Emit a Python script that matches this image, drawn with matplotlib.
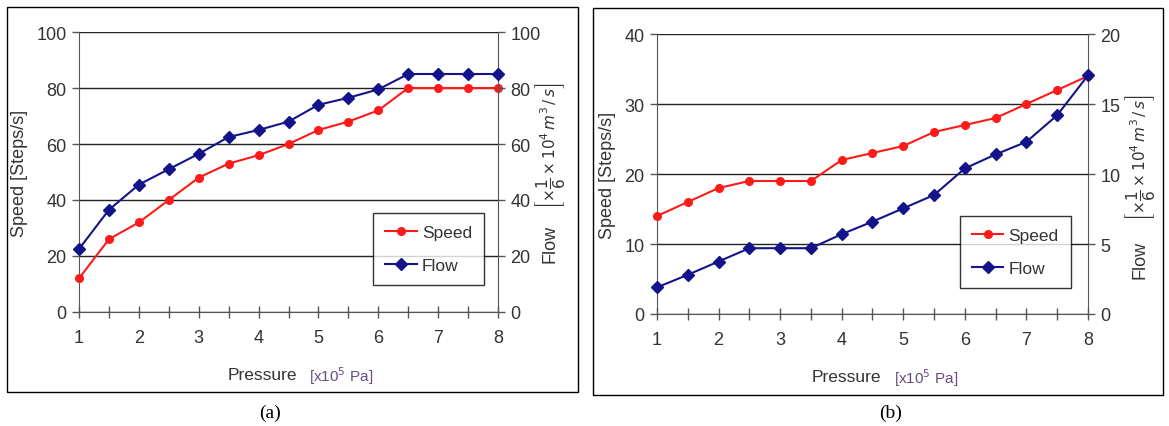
import matplotlib
matplotlib.use("Agg")
import matplotlib.pyplot as plt
import numpy as np
from matplotlib.patches import Rectangle

plt.rcParams['font.family'] = ['Liberation Sans', 'DejaVu Sans']

pressure = [1, 1.5, 2, 2.5, 3, 3.5, 4, 4.5, 5, 5.5, 6, 6.5, 7, 7.5, 8]

speed_a = [12, 26, 32, 40, 48, 53, 56, 60, 65, 68, 72, 80, 80, 80, 80]
flow_a = [22.5, 36.5, 45.5, 51, 56.5, 62.5, 65, 68, 74, 76.5, 79.5, 85, 85, 85, 85]

speed_b = [14, 16, 18, 19, 19, 19, 22, 23, 24, 26, 27, 28, 30, 32, 34]
flow_b = [1.9, 2.8, 3.75, 4.7, 4.7, 4.7, 5.7, 6.6, 7.55, 8.5, 10.4, 11.4, 12.3, 14.2, 17.05]

RED = '#ff1a1a'
NAVY = '#14148a'
GRAY = '#333333'

fig = plt.figure(figsize=(11.69, 4.27), dpi=100)


def panel(rect, frame, speed, flow, ymax, ystep, rmax, rstep, leg_anchor, caption, cap_x,
          lab_x, flow_y, brk_y):
    fig.patches.append(Rectangle(frame[:2], frame[2], frame[3], transform=fig.transFigure,
                                 fill=False, edgecolor='black', lw=1.0))
    ax = fig.add_axes(rect)
    ax2 = ax.twinx()

    ax.set_xlim(1, 8)
    ax.set_ylim(0, ymax)
    ax2.set_ylim(0, rmax)
    ax.set_yticks(np.arange(0, ymax + 1, ystep))
    ax2.set_yticks(np.arange(0, rmax + 1, rstep))
    ax.set_xticks(pressure)
    ax.set_xticklabels([str(int(p)) if p == int(p) else '' for p in pressure])

    ax.grid(axis='y', color='#222222', lw=1.0)
    ax.set_axisbelow(True)
    for a in (ax, ax2):
        a.spines['top'].set_visible(False)
        a.spines['left'].set_color('#555555')
        a.spines['right'].set_color('#555555')
        a.spines['bottom'].set_color('#555555')
    ax.spines['right'].set_visible(False)
    ax2.spines['left'].set_visible(False)
    ax2.spines['bottom'].set_visible(False)

    ax.tick_params(axis='x', direction='inout', length=9, width=1, color='#555555',
                   labelsize=13, labelcolor=GRAY, pad=8)
    ax.tick_params(axis='y', direction='out', length=5, width=1, color='#555555',
                   labelsize=13, labelcolor=GRAY, pad=4)
    ax2.tick_params(axis='y', direction='out', length=5, width=1, color='#555555',
                    labelsize=13, labelcolor=GRAY, pad=4)

    l1, = ax.plot(pressure, speed, color=RED, lw=1.5, marker='o', ms=5.5, label='Speed',
                  clip_on=False, zorder=3)
    l2, = ax2.plot(pressure, flow, color=NAVY, lw=1.5, marker='D', ms=6, label='Flow',
                   clip_on=False, zorder=3)

    ax.set_ylabel('Speed [Steps/s]', fontsize=13, color=GRAY, labelpad=6)
    ax2.text(lab_x, flow_y, 'Flow', transform=ax2.transAxes, rotation=90,
             ha='center', va='center', fontsize=13, color=GRAY)
    ax2.text(lab_x, brk_y, r'$\left[\times\dfrac{1}{6}\times10^4\,m^3\,/\,s\right]$',
             transform=ax2.transAxes, rotation=90, ha='center', va='center',
             fontsize=11, color=GRAY)

    ax.text(0.52, -0.225, 'Pressure', transform=ax.transAxes, ha='right', va='center',
            fontsize=12.5, color=GRAY)
    ax.text(0.55, -0.225, r'[x10$^5$ Pa]', transform=ax.transAxes, ha='left', va='center',
            fontsize=11, color='#6a4a7a')

    leg = ax2.legend([l1, l2], ['Speed', 'Flow'], loc='upper right', bbox_to_anchor=leg_anchor,
                     fontsize=12.5, frameon=True, fancybox=False, edgecolor='black',
                     labelspacing=1.0, handlelength=1.8, handletextpad=0.3,
                     borderpad=0.7, borderaxespad=0)
    leg.get_frame().set_linewidth(1.0)
    for t in leg.get_texts():
        t.set_color(GRAY)

    fig.text(cap_x, 0.033, caption, ha='center', va='center', fontsize=14,
             family='Liberation Serif')


panel([0.0676, 0.267, 0.3584, 0.6557], (0.006, 0.0796, 0.4884, 0.9016),
      speed_a, flow_a, 100, 20, 100, 20, (0.967, 0.354), '(a)', 0.231,
      1.125, 0.246, 0.596)
panel([0.562, 0.2623, 0.3687, 0.6557], (0.5073, 0.0726, 0.4876, 0.9063),
      speed_b, flow_b, 40, 10, 20, 5, (0.96, 0.35), '(b)', 0.762,
      1.12, 0.196, 0.561)

fig.savefig('out.png', dpi=100)
